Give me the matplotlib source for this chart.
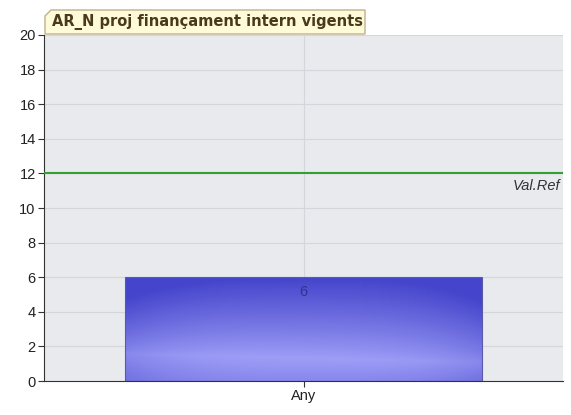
import numpy as np
import matplotlib
matplotlib.use("Agg")
import matplotlib.pyplot as plt
from matplotlib.patches import Polygon

categories = ["Any"]
values = [6]
ref_value = 12
ref_label = "Val.Ref"
title = "AR_N proj finançament intern vigents"
yticks = list(range(0, 21, 2))

plt.rcParams["font.family"] = ["Liberation Sans", "DejaVu Sans"]

fig = plt.figure(figsize=(5.71, 4.15), dpi=100)
W, H = 571, 415
ax = fig.add_axes([44 / W, 1 - 381 / H, (563 - 44) / W, (381 - 35) / H])
ax.set_facecolor("#e8eaee")
ax.set_xlim(-0.5, 0.5)
ax.set_ylim(0, 20)
ax.set_yticks(yticks)
ax.set_yticklabels([str(t) for t in yticks], fontsize=10.5, color="#222222")
x = np.arange(len(categories))
ax.set_xticks(x)
ax.set_xticklabels(categories, fontsize=10.5, color="#222222")
ax.grid(True, color="#d3d6da", linewidth=0.8)
ax.set_axisbelow(True)
for s in ["top", "right"]:
    ax.spines[s].set_visible(False)
ax.spines["left"].set_color("#333333")
ax.spines["bottom"].set_color("#333333")
ax.tick_params(length=4, color="#333333", pad=2)

bars = ax.bar(x, values, width=0.686, color="none", edgecolor="#5a5aa8", linewidth=0.8, zorder=3)
# gradient fill (yy=0 bottom)
ny, nx = 120, 120
yy = np.linspace(0, 1, ny)[:, None]
xx = np.linspace(0, 1, nx)[None, :]
light = np.array([0.62, 0.62, 0.97])
dark = np.array([0.27, 0.27, 0.80])
band = 0.22 + 0.08 * (0.5 - xx)
shade = np.where(yy > band, ((yy - band) / (1 - band)) ** 0.9, 0.25 * (band - yy) / band)
shade = np.clip(shade + 0.25 * (np.abs(xx - 0.5) * 2) ** 3, 0, 1)
img = light[None, None, :] * (1 - shade[..., None]) + dark[None, None, :] * shade[..., None]
for b in bars:
    bx, bw, bh = b.get_x(), b.get_width(), b.get_height()
    im = ax.imshow(img, extent=[bx, bx + bw, 0, bh], origin="lower", aspect="auto", zorder=2)
    im.set_clip_path(b)
    ax.text(bx + bw / 2, bh - 0.45, str(values[0]), ha="center", va="top",
            fontsize=10.5, color="#333388", zorder=4)

ax.axhline(ref_value, color="#33a033", linewidth=1.5, zorder=3)
ax.text(0.495, ref_value - 0.3, ref_label, ha="right", va="top", fontsize=10.5,
        style="italic", color="#333333", zorder=4)

# title tab
x0, x1, y0, y1 = 45, 365, 10, 34
c = 6
pts = [(x0, H - y1), (x0, H - y0 - c), (x0 + c, H - y0), (x1, H - y0), (x1, H - y1)]
fig.patches.append(Polygon([(px / W, py / H) for px, py in pts], closed=True,
                           transform=fig.transFigure, facecolor="#fffbd9",
                           edgecolor="#bfb08f", linewidth=1))
fig.text((x0 + 7) / W, 1 - 22 / H, title, ha="left", va="center", fontsize=10.5,
         fontweight="bold", color="#4a3a1a", family=["DejaVu Sans"])

fig.savefig("out.png", dpi=100)
